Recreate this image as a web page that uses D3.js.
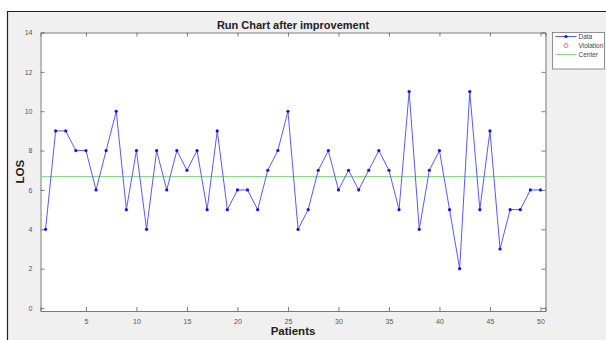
<!DOCTYPE html>
<html>
<head>
<meta charset="utf-8">
<script src="https://cdn.jsdelivr.net/npm/d3@7"></script>
<style>
  body { margin: 0; background: #fff; }
  svg { display: block; font-family: "Liberation Sans", Arial, sans-serif; }
</style>
</head>
<body>
<div id="chart"></div>
<script>
// LOS per patient after improvement
const patients = d3.range(1, 51);
const los = [4, 9, 9, 8, 8, 6, 8, 10, 5, 8,
             4, 8, 6, 8, 7, 8, 5, 9, 5, 6,
             6, 5, 7, 8, 10, 4, 5, 7, 8, 6,
             7, 6, 7, 8, 7, 5, 11, 4, 7, 8,
             5, 2, 11, 5, 9, 3, 5, 5, 6, 6];
const center = 6.68;
const xTicks = [5, 10, 15, 20, 25, 30, 35, 40, 45, 50];
const yTicks = [0, 2, 4, 6, 8, 10, 12, 14];
const legendItems = ["Data", "Violation", "Center"];

const width = 606, height = 340;
const plot = {left: 40.5, right: 545.5, top: 32.5, bottom: 311};

const svg = d3.select("#chart").append("svg")
  .attr("width", width)
  .attr("height", height);

// figure background + frame
svg.append("rect")
  .attr("x", 7).attr("y", 11.5)
  .attr("width", width - 7).attr("height", height - 11.5)
  .attr("fill", "#f0f0f0");
svg.append("path")
  .attr("d", `M7.5,${height}V11.5H${width}`)
  .attr("fill", "none")
  .attr("stroke", "#222")
  .attr("stroke-width", 1.2);

const x = d3.scaleLinear().domain([0.5, 50.5]).range([plot.left, plot.right]);
const y = d3.scaleLinear().domain([-0.15, 14]).range([plot.bottom, plot.top]);

// axes area
svg.append("rect")
  .attr("x", plot.left).attr("y", plot.top)
  .attr("width", plot.right - plot.left).attr("height", plot.bottom - plot.top)
  .attr("fill", "#fff");

const tickLen = 4;
const axisColor = "#7a7a7a";

// bottom axis
const xAxis = svg.append("g")
  .attr("transform", `translate(0,${plot.bottom})`)
  .call(d3.axisBottom(x).tickValues(xTicks).tickSize(-tickLen).tickPadding(8));
// top axis (ticks only)
const xAxisTop = svg.append("g")
  .attr("transform", `translate(0,${plot.top})`)
  .call(d3.axisTop(x).tickValues(xTicks).tickSize(-tickLen).tickFormat(""));
// left axis
const yAxis = svg.append("g")
  .attr("transform", `translate(${plot.left},0)`)
  .call(d3.axisLeft(y).tickValues(yTicks).tickSize(-tickLen).tickPadding(8));
// right axis (ticks only)
const yAxisRight = svg.append("g")
  .attr("transform", `translate(${plot.right},0)`)
  .call(d3.axisRight(y).tickValues(yTicks).tickSize(-tickLen).tickFormat(""));

[xAxis, xAxisTop, yAxis, yAxisRight].forEach(a => {
  a.select(".domain").attr("stroke", axisColor);
  a.selectAll(".tick line").attr("stroke", axisColor);
  a.selectAll(".tick text")
    .attr("fill", "#555")
    .style("font-size", "7px");
});

// center line
svg.append("line")
  .attr("x1", plot.left).attr("x2", plot.right)
  .attr("y1", y(center)).attr("y2", y(center))
  .attr("stroke", "#8cd98c")
  .attr("stroke-width", 1.2);

// data line
const data = patients.map((p, i) => ({p: p, v: los[i]}));
const line = d3.line().x(d => x(d.p)).y(d => y(d.v));
svg.append("path")
  .datum(data)
  .attr("d", line)
  .attr("fill", "none")
  .attr("stroke", "#5a5af5")
  .attr("stroke-width", 1);

svg.append("g")
  .selectAll("circle")
  .data(data)
  .enter()
  .append("circle")
  .attr("cx", d => x(d.p))
  .attr("cy", d => y(d.v))
  .attr("r", 1.6)
  .attr("fill", "#1010ff");

// title & labels
svg.append("text")
  .attr("x", (plot.left + plot.right) / 2)
  .attr("y", 28.5)
  .attr("text-anchor", "middle")
  .style("font-size", "11px")
  .style("font-weight", "bold")
  .attr("fill", "#222")
  .text("Run Chart after improvement");

svg.append("text")
  .attr("x", (plot.left + plot.right) / 2)
  .attr("y", 335)
  .attr("text-anchor", "middle")
  .style("font-size", "11.5px")
  .style("font-weight", "bold")
  .attr("fill", "#222")
  .text("Patients");

svg.append("text")
  .attr("transform", `translate(24,${(plot.top + plot.bottom) / 2}) rotate(-90)`)
  .attr("text-anchor", "middle")
  .style("font-size", "11.5px")
  .style("font-weight", "bold")
  .attr("fill", "#222")
  .text("LOS");

// legend
const legend = svg.append("g").attr("transform", "translate(552.5,32.5)");
legend.append("rect")
  .attr("width", 52).attr("height", 36.5)
  .attr("fill", "#fff")
  .attr("stroke", "#777")
  .attr("stroke-width", 0.8);
const rowY = [4, 13, 22];
legendItems.forEach((name, i) => {
  const ly = rowY[i];
  if (i === 0) {
    legend.append("line").attr("x1", 3).attr("x2", 24).attr("y1", ly).attr("y2", ly)
      .attr("stroke", "#5a5af5").attr("stroke-width", 1);
    legend.append("circle").attr("cx", 13.5).attr("cy", ly).attr("r", 1.6).attr("fill", "#1010ff");
  } else if (i === 1) {
    legend.append("circle").attr("cx", 13.5).attr("cy", ly).attr("r", 2)
      .attr("fill", "none").attr("stroke", "#e05050").attr("stroke-width", 0.8);
  } else {
    legend.append("line").attr("x1", 3).attr("x2", 24).attr("y1", ly).attr("y2", ly)
      .attr("stroke", "#8cd98c").attr("stroke-width", 1.2);
  }
  legend.append("text")
    .attr("x", 26).attr("y", ly + 2.3)
    .style("font-size", "6.5px")
    .attr("fill", "#444")
    .text(name);
});
</script>
</body>
</html>
